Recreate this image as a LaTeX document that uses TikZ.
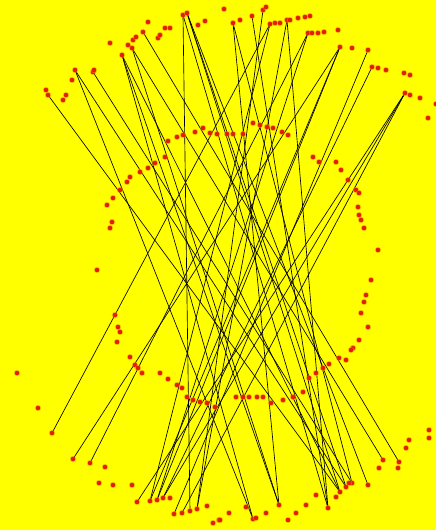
\documentclass[tikz,border=0pt]{standalone}
\definecolor{bg}{RGB}{255,255,0}
\definecolor{dotred}{RGB}{225,30,8}
\definecolor{halo}{RGB}{250,150,0}
\begin{document}
\begin{tikzpicture}[x=1pt,y=-1pt,
  dot/.style={fill=dotred},
  link/.style={black,line width=0.65pt}]
\fill[bg] (0,0) rectangle (436,530);
\useasboundingbox (0,0) rectangle (436,530);
% top end points
\coordinate (t1) at (48,95);
\coordinate (t2) at (75,70);
\coordinate (t3) at (93,72);
\coordinate (t4) at (122,55);
\coordinate (t5) at (132,48);
\coordinate (t6) at (143,32);
\coordinate (t7) at (183,15);
\coordinate (t8) at (187,13);
\coordinate (t9) at (233,23);
\coordinate (t10) at (252,16);
\coordinate (t11) at (263,10);
\coordinate (t12) at (270,24);
\coordinate (t13) at (287,20);
\coordinate (t14) at (308,33);
\coordinate (t15) at (340,47);
\coordinate (t16) at (368,50);
\coordinate (t17) at (372,67);
\coordinate (t18) at (405,93);
% bottom end points
\coordinate (b1) at (52,433);
\coordinate (b2) at (73,459);
\coordinate (b3) at (90,463);
\coordinate (b4) at (137,502);
\coordinate (b5) at (150,501);
\coordinate (b6) at (157,500);
\coordinate (b7) at (163,498);
\coordinate (b8) at (174,514);
\coordinate (b9) at (182,513);
\coordinate (b10) at (190,511);
\coordinate (b11) at (197,509);
\coordinate (b12) at (253,519);
\coordinate (b13) at (279,505);
\coordinate (b14) at (328,508);
\coordinate (b15) at (340,492);
\coordinate (b16) at (346,487);
\coordinate (b17) at (352,483);
\coordinate (b18) at (368,485);
\coordinate (b19) at (383,460);
\coordinate (b20) at (399,462);
% connectors
\foreach \a/\b in {t1/b15,t2/b12,t2/b16,t3/b17,t4/b12,t4/b13,t4/b15,t5/b13,t5/b19,
  t6/b20,t7/b10,t7/b14,t8/b18,t8/b16,t8/b15,t9/b13,t9/b17,t10/b14,t11/b11,
  t12/b1,t12/b5,t13/b11,t13/b14,t14/b3,t14/b6,t15/b2,t15/b5,t15/b6,t16/b8,
  t17/b7,t18/b4,t18/b9,t18/b7}
  \draw[link] (\a) -- (\b);
% end point dots
\foreach \p in {t1,t2,t3,t4,t5,t6,t7,t8,t9,t10,t11,t12,t13,t14,t15,t16,t17,t18,
  b1,b2,b3,b4,b5,b6,b7,b8,b9,b10,b11,b12,b13,b14,b15,b16,b17,b18,b19,b20}
  {\fill[halo,opacity=0.5] (\p) circle (3.2pt); \fill[dot] (\p) circle (2.3pt);}
% other dots
\foreach \x/\y in {
  110/43,128/45,133/40,136/37,148/22,158/38,160/35,165/28,170/28,198/25,205/21,
  72/80,66/95,63/100,94/70,46/90,224/9,240/20,266/7,275/23,280/23,290/20,298/18,
  305/17,310/16,312/33,318/33,324/32,338/30,352/48,378/68,386/70,404/73,410/75,
  410/95,420/98,428/118,436/104,
  107/205,113/198,120/190,127/182,130/177,140/172,148/168,155/163,165/157,
  168/141,177/137,183/135,195/132,203/128,210/133,217/134,227/134,233/134,243/134,
  253/123,260/125,267/127,273/128,282/132,288/135,
  112/222,110/228,97/270,115/315,118/327,120/332,117/342,
  313/157,319/162,336/162,341/170,348/180,356/190,359/193,358/207,359/215,
  361/220,364/228,378/250,371/280,366/295,364/302,361/313,368/327,359/340,353/348,
  130/357,135/365,138/368,142/373,160/373,168/379,177/385,182/388,187/397,
  193/400,200/402,207/403,215/407,236/397,243/397,249/397,257/397,263/397,
  271/403,283/400,293/397,303/392,309/378,316/373,323/368,329/364,339/358,
  346/360,351/350,
  429/430,429/438,409/440,406/448,379/468,398/468,349/483,336/497,316/495,
  306/505,296/513,288/520,266/513,256/518,246/507,229/513,219/520,
  17/373,38/408,105/467,99/483,113/485,132/485,170/498,207/506,213/523,220/520}
  {\fill[halo,opacity=0.5] (\x,\y) circle (3.2pt); \fill[dot] (\x,\y) circle (2.3pt);}
\end{tikzpicture}
\end{document}
